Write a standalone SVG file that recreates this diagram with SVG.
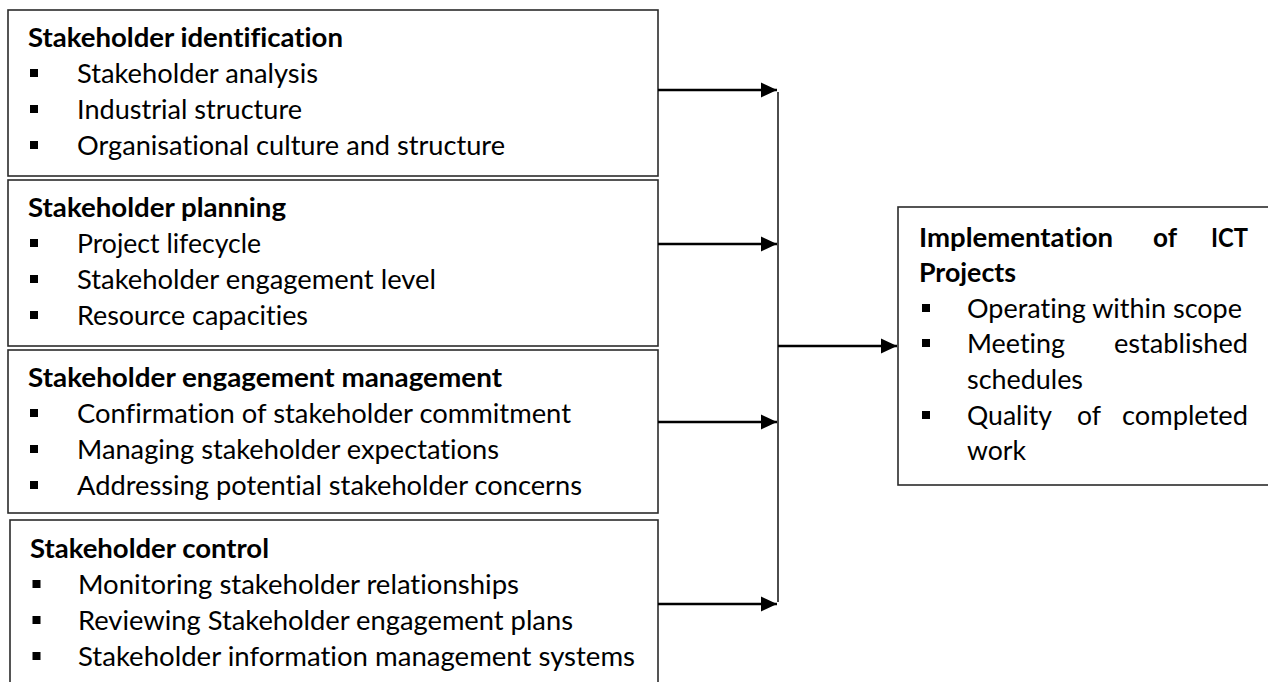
<svg xmlns="http://www.w3.org/2000/svg" width="1268" height="682" viewBox="0 0 1268 682">
<style>
.box{fill:#fff;stroke:#2b2b2b;stroke-width:1.6}
.t{font-family:Lato,"Liberation Sans",sans-serif;font-size:26.5px;fill:#000;font-variant-ligatures:none;font-feature-settings:"liga" 0,"clig" 0}
.b{font-weight:bold}
.bul{fill:#000}
.arr{stroke:#000;stroke-width:2.6;fill:none}
.bus{stroke:#000;stroke-width:1.4;fill:none}
</style>
<defs>
<marker id="ah" markerUnits="userSpaceOnUse" markerWidth="17" markerHeight="17" refX="16" refY="8" orient="auto">
<path d="M0,0.5 L16,8 L0,15.5 Z" fill="#000"/>
</marker>
</defs>
<rect width="1268" height="682" fill="#fff"/>

<g id="node-identification">
<rect class="box" x="8" y="10" width="650" height="166"/>
<text class="t b" x="28" y="47" textLength="315" lengthAdjust="spacingAndGlyphs">Stakeholder identification</text>
<rect class="bul" x="30" y="69" width="8" height="8"/>
<rect class="bul" x="30" y="105" width="8" height="8"/>
<rect class="bul" x="30" y="141" width="8" height="8"/>
<text class="t" x="77" y="83" textLength="241" lengthAdjust="spacingAndGlyphs">Stakeholder analysis</text>
<text class="t" x="77" y="119" textLength="225" lengthAdjust="spacingAndGlyphs">Industrial structure</text>
<text class="t" x="77" y="155" textLength="428" lengthAdjust="spacingAndGlyphs">Organisational culture and structure</text>
</g>

<g id="node-planning">
<rect class="box" x="8" y="180" width="650" height="166"/>
<text class="t b" x="28" y="217" textLength="258" lengthAdjust="spacingAndGlyphs">Stakeholder planning</text>
<rect class="bul" x="30" y="239" width="8" height="8"/>
<rect class="bul" x="30" y="275" width="8" height="8"/>
<rect class="bul" x="30" y="311" width="8" height="8"/>
<text class="t" x="77" y="253" textLength="184" lengthAdjust="spacingAndGlyphs">Project lifecycle</text>
<text class="t" x="77" y="289" textLength="359" lengthAdjust="spacingAndGlyphs">Stakeholder engagement level</text>
<text class="t" x="77" y="325" textLength="231" lengthAdjust="spacingAndGlyphs">Resource capacities</text>
</g>

<g id="node-engagement">
<rect class="box" x="8" y="350" width="650" height="163"/>
<text class="t b" x="28" y="387" textLength="474" lengthAdjust="spacingAndGlyphs">Stakeholder engagement management</text>
<rect class="bul" x="30" y="409" width="8" height="8"/>
<rect class="bul" x="30" y="445" width="8" height="8"/>
<rect class="bul" x="30" y="481" width="8" height="8"/>
<text class="t" x="77" y="423" textLength="494" lengthAdjust="spacingAndGlyphs">Confirmation of stakeholder commitment</text>
<text class="t" x="77" y="459" textLength="422" lengthAdjust="spacingAndGlyphs">Managing stakeholder expectations</text>
<text class="t" x="77" y="495" textLength="505" lengthAdjust="spacingAndGlyphs">Addressing potential stakeholder concerns</text>
</g>

<g id="node-control">
<rect class="box" x="10" y="520" width="648" height="180"/>
<text class="t b" x="30" y="558" textLength="239" lengthAdjust="spacingAndGlyphs">Stakeholder control</text>
<rect class="bul" x="32.5" y="580" width="8" height="8"/>
<rect class="bul" x="32.5" y="616" width="8" height="8"/>
<rect class="bul" x="32.5" y="652" width="8" height="8"/>
<text class="t" x="78" y="594" textLength="441" lengthAdjust="spacingAndGlyphs">Monitoring stakeholder relationships</text>
<text class="t" x="78" y="630" textLength="495" lengthAdjust="spacingAndGlyphs">Reviewing Stakeholder engagement plans</text>
<text class="t" x="78" y="666" textLength="557" lengthAdjust="spacingAndGlyphs">Stakeholder information management systems</text>
</g>

<g id="node-implementation">
<rect class="box" x="898" y="207" width="380" height="278"/>
<text class="t b" x="919" y="247" textLength="194" lengthAdjust="spacingAndGlyphs">Implementation</text>
<text class="t b" x="1153" y="247" textLength="24" lengthAdjust="spacingAndGlyphs">of</text>
<text class="t b" x="1211" y="247" textLength="37" lengthAdjust="spacingAndGlyphs">ICT</text>
<text class="t b" x="919" y="282" textLength="97" lengthAdjust="spacingAndGlyphs">Projects</text>
<rect class="bul" x="922" y="304" width="8" height="8"/>
<rect class="bul" x="922" y="339" width="8" height="8"/>
<rect class="bul" x="922" y="411" width="8" height="8"/>
<text class="t" x="967" y="318" textLength="275" lengthAdjust="spacingAndGlyphs">Operating within scope</text>
<text class="t" x="967" y="353" textLength="98" lengthAdjust="spacingAndGlyphs">Meeting</text>
<text class="t" x="1114" y="353" textLength="134" lengthAdjust="spacingAndGlyphs">established</text>
<text class="t" x="967" y="389" textLength="116" lengthAdjust="spacingAndGlyphs">schedules</text>
<text class="t" x="967" y="425" textLength="85" lengthAdjust="spacingAndGlyphs">Quality</text>
<text class="t" x="1077" y="425" textLength="24" lengthAdjust="spacingAndGlyphs">of</text>
<text class="t" x="1122" y="425" textLength="126" lengthAdjust="spacingAndGlyphs">completed</text>
<text class="t" x="967" y="460" textLength="59" lengthAdjust="spacingAndGlyphs">work</text>
</g>

<g id="connectors">
<line class="arr" x1="658" y1="90" x2="777" y2="90" marker-end="url(#ah)"/>
<line class="arr" x1="658" y1="244" x2="777" y2="244" marker-end="url(#ah)"/>
<line class="arr" x1="658" y1="422" x2="777" y2="422" marker-end="url(#ah)"/>
<line class="arr" x1="658" y1="604" x2="777" y2="604" marker-end="url(#ah)"/>
<line class="bus" x1="778" y1="92" x2="778" y2="602"/>
<line class="arr" x1="778" y1="346" x2="897" y2="346" marker-end="url(#ah)"/>
</g>
</svg>
